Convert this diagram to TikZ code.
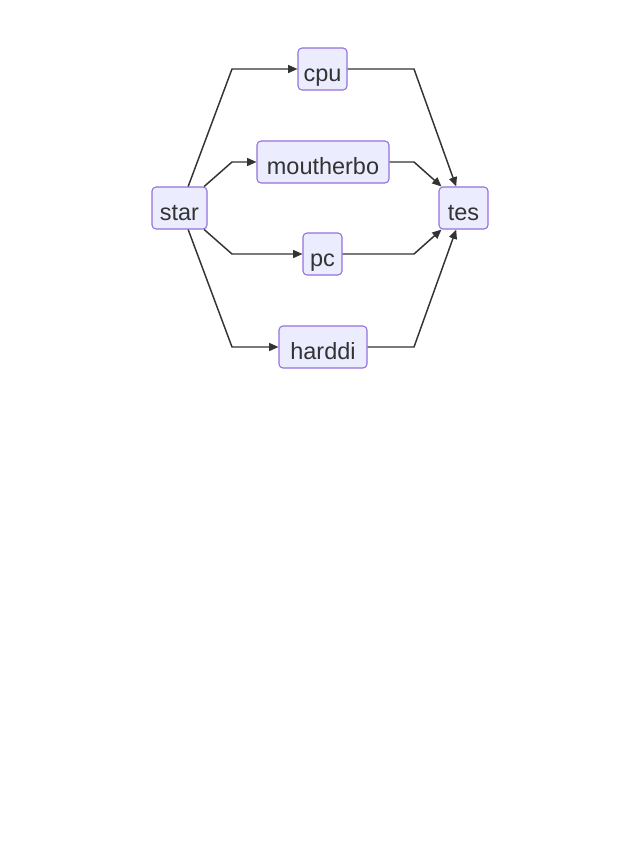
\documentclass[tikz,border=0pt]{standalone}
\usepackage{fontspec}
\setmainfont{Liberation Sans}
\usetikzlibrary{positioning, calc, arrows.meta}

\definecolor{boxfill}{HTML}{ECECFF}
\definecolor{boxline}{HTML}{9370DB}
\definecolor{ink}{HTML}{333333}

\begin{document}
\begin{tikzpicture}[x=0.75pt, y=-0.75pt,
        every node/.style={draw=boxline, fill=boxfill, rounded corners=3pt, line width=0.8pt, text=ink,
            minimum height=31.5pt, inner sep=0pt, text height=18.5pt, text depth=0pt,
            font=\fontsize{17.6}{20}\selectfont},
        flow/.style={draw=ink, line width=1.1pt, -{Triangle[length=7pt, width=6pt]}}]
        \useasboundingbox (0,0) rectangle (640,864);

        \node[minimum width=41.25pt] (start) at (179.5,208) {star}; % left end
        \node[minimum width=36.75pt] (cpu) at (322.5,69) {cpu};
        \node[minimum width=99pt] (board) at (323,162) {moutherbo};
        \node[minimum width=29.25pt] (pc) at (322.5,254) {pc};
        \node[minimum width=66pt] (disk) at (323,347) {harddi};
        \node[minimum width=36.75pt] (test) at (463.5,208) {tes}; % right end

        % bends of the connectors
        \coordinate (s1) at (232,69);
        \coordinate (s2) at (232,162);
        \coordinate (s3) at (232,254);
        \coordinate (s4) at (232,347);
        \coordinate (t1) at (414,69);
        \coordinate (t2) at (414,162);
        \coordinate (t3) at (414,254);
        \coordinate (t4) at (414,347);

        \draw[flow] ([xshift=6.5pt]start.north) -- (s1) -- (cpu.west);
        \draw[flow] ([xshift=18.5pt]start.north) -- (s2) -- (board.west);
        \draw[flow] ([xshift=18.5pt]start.south) -- (s3) -- (pc.west);
        \draw[flow] ([xshift=6.5pt]start.south) -- (s4) -- (disk.west);

        \draw[flow] (cpu.east) -- (t1) -- ([xshift=-5.5pt]test.north);
        \draw[flow] (board.east) -- (t2) -- ([xshift=-16.5pt]test.north);
        \draw[flow] (pc.east) -- (t3) -- ([xshift=-16.5pt]test.south);
        \draw[flow] (disk.east) -- (t4) -- ([xshift=-5.5pt]test.south);
\end{tikzpicture}
\end{document}
